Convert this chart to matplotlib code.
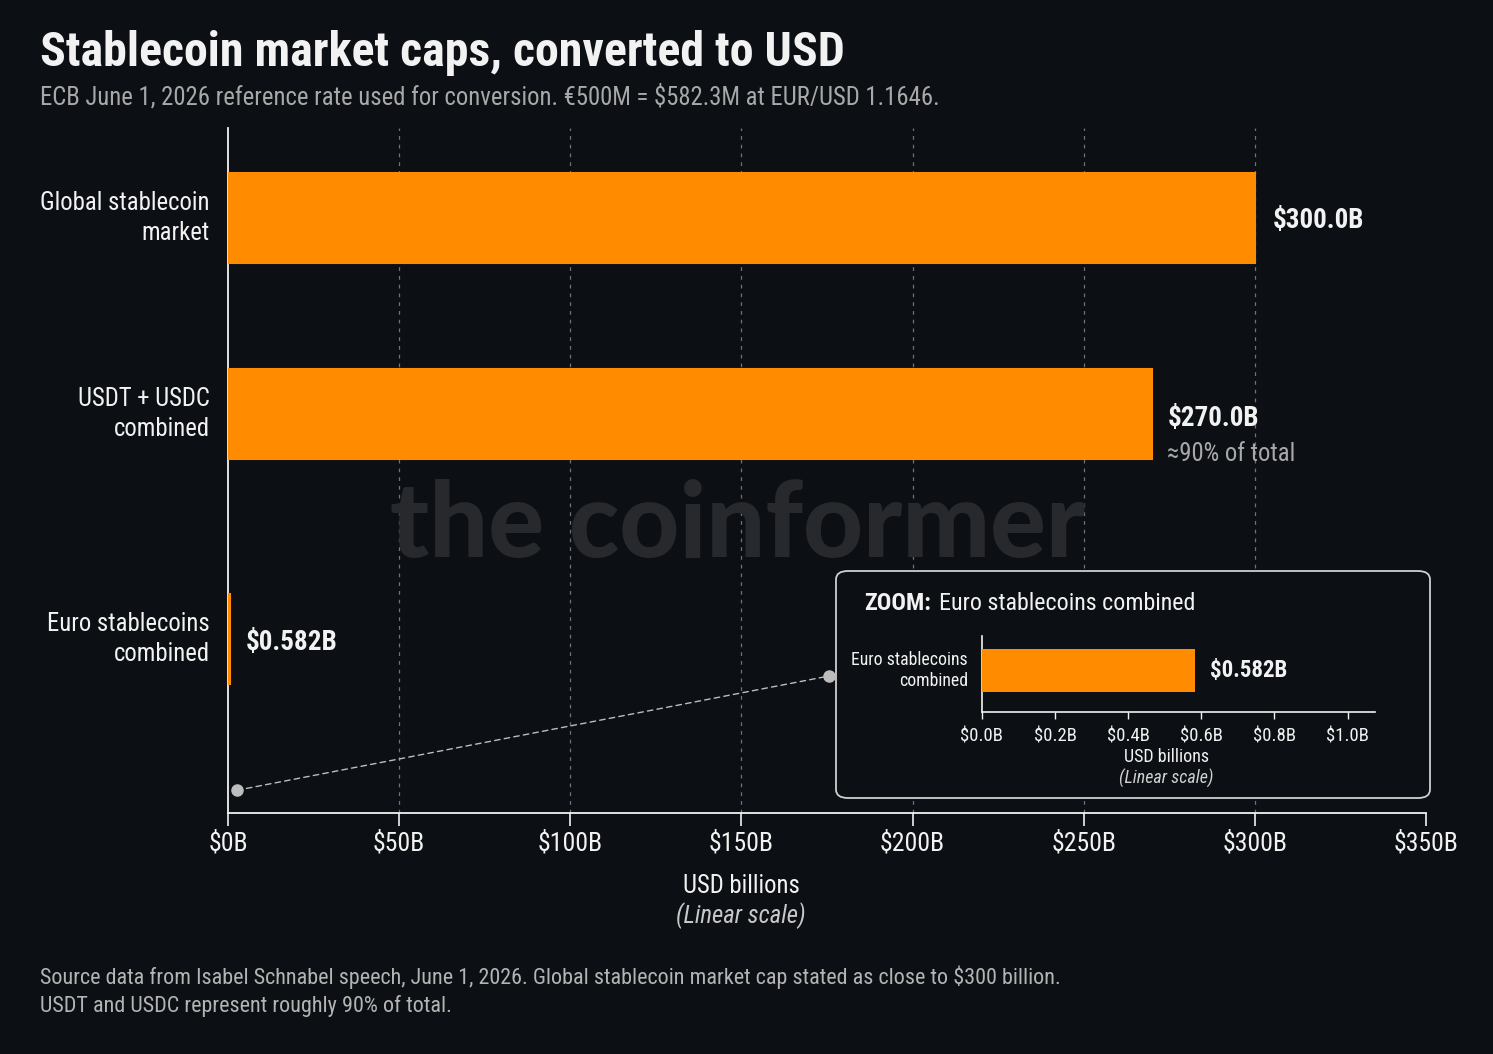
import matplotlib
matplotlib.use("Agg")
import matplotlib.pyplot as plt
import matplotlib.font_manager as fm
from matplotlib.patches import FancyBboxPatch, ConnectionPatch

# ---------------- data ----------------
categories = ["Global stablecoin\nmarket", "USDT + USDC\ncombined", "Euro stablecoins\ncombined"]
values_usd_b = [300.0, 270.0, 0.582]
value_labels = ["$300.0B", "$270.0B", "$0.582B"]
main_ticks = [0, 50, 100, 150, 200, 250, 300, 350]
main_tick_labels = ["$0B", "$50B", "$100B", "$150B", "$200B", "$250B", "$300B", "$350B"]
zoom_category = ["Euro stablecoins\ncombined"]
zoom_values = [0.582]
zoom_ticks = [0.0, 0.2, 0.4, 0.6, 0.8, 1.0]
zoom_tick_labels = ["$0.0B", "$0.2B", "$0.4B", "$0.6B", "$0.8B", "$1.0B"]

# ---------------- fonts ----------------
ttf = fm.fontManager.ttflist
avail = {f.name for f in ttf}
COND = None
for cand in ["Roboto Condensed", "IBM Plex Sans Condensed", "Open Sans Condensed",
             "Liberation Sans Narrow", "DejaVu Sans Condensed"]:
    if cand in avail:
        COND = cand
        break
STRETCH = "normal"
if COND is None:
    if any(f.name == "DejaVu Sans" and str(f.stretch) in ("condensed", "semi-condensed") for f in ttf):
        COND = "DejaVu Sans"
        STRETCH = "condensed"
        SC = 0.95
    else:
        COND = "Roboto"
        SC = 0.85
else:
    SC = 1.0
FF = [COND, "DejaVu Sans"]
plt.rcParams["font.family"] = FF

BG = "#0c0f13"
ORANGE = "#ff8c00"
WHITE = "#f2f2f2"
GRAY = "#a8a8a8"
GRID = "#6f7378"

W, H = 1493, 1054
fig = plt.figure(figsize=(W / 100, H / 100), dpi=100, facecolor=BG)


def fx(px):
    return px / W


def fy(py):
    return 1 - py / H


def T(x, y, s, size, **kw):
    kw.setdefault("color", WHITE)
    kw.setdefault("fontstretch", STRETCH)
    return fig.text(fx(x), fy(y), s, fontsize=size * SC, **kw)


# ---------------- header / footer ----------------
T(40, 66, "Stablecoin market caps, converted to USD", 34.5, fontweight="bold", va="baseline")
T(40, 104, "ECB June 1, 2026 reference rate used for conversion. €500M = $582.3M at EUR/USD 1.1646.",
  17.8, color=GRAY, va="baseline")
T(40, 984, "Source data from Isabel Schnabel speech, June 1, 2026. Global stablecoin market cap stated as close to $300 billion.",
  15.9, color="#b4b4b4", va="baseline")
T(40, 1012, "USDT and USDC represent roughly 90% of total.", 15.9, color="#b4b4b4", va="baseline")

# watermark
fig.text(fx(738), fy(526), "the coinformer", fontsize=75, fontweight="black",
         family=["Lato", "DejaVu Sans"], color="#27292c", ha="center", va="center", zorder=0)

# ---------------- main axes ----------------
ax = fig.add_axes([fx(228), fy(813), fx(1426) - fx(228), fy(128) - fy(813)])
ax.set_facecolor("none")
pos = [0, 1, 2.15]
bars = ax.barh(pos, values_usd_b, height=0.46, color=ORANGE, edgecolor=ORANGE, linewidth=1.5, zorder=3)
ax.set_xlim(0, 350)
ax.set_ylim(3.036, -0.459)
ax.set_xticks(main_ticks)
ax.set_xticklabels(main_tick_labels, fontsize=18.5 * SC, color=WHITE, fontstretch=STRETCH)
ax.set_yticks(pos)
ax.set_yticklabels(categories, fontsize=17.8 * SC, color=WHITE, fontstretch=STRETCH,
                   linespacing=1.3, va="center")
ax.tick_params(axis="y", length=0, pad=13)
ax.tick_params(axis="x", length=9, width=1.2, color=WHITE, pad=4)
for s in ["top", "right"]:
    ax.spines[s].set_visible(False)
for s in ["left", "bottom"]:
    ax.spines[s].set_color(WHITE)
    ax.spines[s].set_linewidth(1.3)
for xv in main_ticks[1:-1]:
    ax.axvline(xv, color=GRID, lw=0.9, ls=(0, (3, 4)), zorder=1)

label_offsets = [(13, -2), (11, -3), (11, -2)]
for b, lab, off in zip(bars, value_labels, label_offsets):
    ax.annotate(lab, (b.get_width(), b.get_y() + b.get_height() / 2), xytext=off,
                textcoords="offset points", va="center", ha="left", fontsize=19.5 * SC,
                fontweight="bold", color=WHITE, fontstretch=STRETCH, zorder=5)
b2 = bars[1]
ax.annotate("≈90% of total", (b2.get_width(), b2.get_y() + b2.get_height() / 2), xytext=(11, -29),
            textcoords="offset points", va="center", ha="left", fontsize=17.8 * SC, color=GRAY,
            fontstretch=STRETCH, zorder=5)

T(741, 886, "USD billions", 17.8, ha="center", va="center")
T(741, 916, "(Linear scale)", 17.8, ha="center", va="center", style="italic", color="#c8c8c8")

# ---------------- zoom box ----------------
box = FancyBboxPatch((fx(836), fy(798)), fx(1430) - fx(836), fy(571) - fy(798),
                     boxstyle="round,pad=0,rounding_size=0.008", transform=fig.transFigure,
                     facecolor=BG, edgecolor="#cfcfcf", linewidth=1.3, zorder=2)
fig.patches.append(box)

T(864, 610, "ZOOM:", 17.3, fontweight="bold", va="baseline", zorder=6)
T(939, 610, "Euro stablecoins combined", 17.3, va="baseline", zorder=6)

axz = fig.add_axes([fx(982), fy(712), fx(1375) - fx(982), fy(636) - fy(712)], zorder=5)
axz.set_facecolor("none")
zb = axz.barh([0], zoom_values, height=1.0, color=ORANGE, zorder=3)
axz.set_xlim(0, 1.075)
axz.set_ylim(-0.965, 0.802)
axz.set_xticks(zoom_ticks)
axz.set_xticklabels(zoom_tick_labels, fontsize=13.5 * SC, color=WHITE, fontstretch=STRETCH)
axz.set_yticks([0])
axz.set_yticklabels(zoom_category, fontsize=12.8 * SC, color=WHITE, fontstretch=STRETCH,
                    linespacing=1.25, va="center")
axz.tick_params(axis="y", length=0, pad=10)
axz.tick_params(axis="x", length=5, width=1, color=WHITE, pad=6)
for s in ["top", "right"]:
    axz.spines[s].set_visible(False)
for s in ["left", "bottom"]:
    axz.spines[s].set_color(WHITE)
    axz.spines[s].set_linewidth(1.2)
for b in zb:
    axz.annotate(value_labels[2], (b.get_width(), 0), xytext=(11, 0), textcoords="offset points",
                 va="center", ha="left", fontsize=16.5 * SC, fontweight="bold", color=WHITE,
                 fontstretch=STRETCH)

T(1166, 757, "USD billions", 13, ha="center", va="center", zorder=6)
T(1166, 778, "(Linear scale)", 13, ha="center", va="center", style="italic", color="#d0d0d0", zorder=6)

# ---------------- connector ----------------
start = (2.6, 2.92)
end_fig = (fx(829), fy(676))
con = ConnectionPatch(xyA=start, coordsA=ax.transData, xyB=end_fig, coordsB=fig.transFigure,
                      color="#bdbdbd", lw=1.0, ls=(0, (4, 3)), zorder=4)
fig.add_artist(con)
ax.plot([start[0]], [start[1]], "o", ms=8, color="#bdbdbd", clip_on=False, zorder=6)
fig.add_artist(plt.Line2D([end_fig[0]], [end_fig[1]], marker="o", ms=8, color="#bdbdbd",
                          transform=fig.transFigure, zorder=6))

fig.savefig("out.png", dpi=100, facecolor=BG)
